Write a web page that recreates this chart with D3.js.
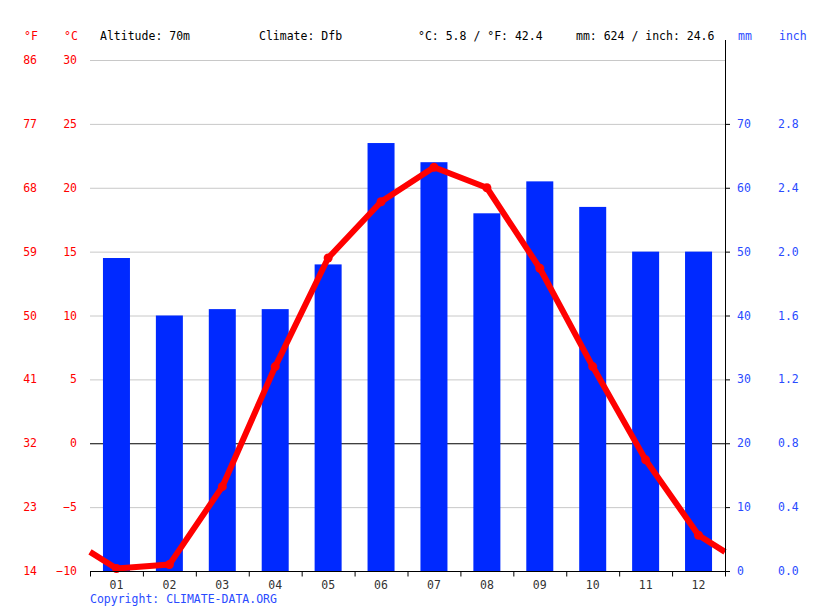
<!DOCTYPE html>
<html>
<head>
<meta charset="utf-8">
<script src="https://cdn.jsdelivr.net/npm/d3@7"></script>
<style>
  body { margin: 0; background: #fff; }
  text { font-family: "DejaVu Sans Mono", monospace; font-size: 11.5px; }
</style>
</head>
<body>
<div id="chart"></div>
<script>
// climate data
var months = ["01","02","03","04","05","06","07","08","09","10","11","12"];
var precip = [49, 40, 41, 41, 48, 67, 64, 56, 61, 57, 50, 50];
var temp = [-9.8, -9.5, -3.4, 6.0, 14.5, 18.9, 21.6, 20.0, 13.7, 6.0, -1.3, -7.2];
var cTicks = [30, 25, 20, 15, 10, 5, 0, -5, -10];
var fTicks = ["86","77","68","59","50","41","32","23","14"];
var mmTicks = [0, 10, 20, 30, 40, 50, 60, 70];
var inchTicks = ["0.0","0.4","0.8","1.2","1.6","2.0","2.4","2.8"];

var W = 815, H = 611,
    pL = 90, pR = 725, pT = 60, pB = 571,
    RED = "#ff0000", BLUE = "#0029ff", LBLUE = "#2a4bff";

var svg = d3.select("#chart").append("svg")
    .attr("width", W)
    .attr("height", H);

var x = d3.scaleBand().domain(months).range([pL, pR]);
var yT = d3.scaleLinear().domain([-10, 30]).range([pB, pT]);
var yP = d3.scaleLinear().domain([0, 80]).range([pB, pT]);

function cx(i) { return x(months[i]) + x.bandwidth() / 2; }

// grid lines
svg.selectAll(".grid").data(cTicks).enter().append("line")
    .attr("x1", pL).attr("x2", pR)
    .attr("y1", function(d){return yT(d) + 0.5;})
    .attr("y2", function(d){return yT(d) + 0.5;})
    .style("stroke", function(d){return d === 0 ? "#000" : "#c8c8c8";})
    .style("stroke-width", 1);

// bars
svg.selectAll(".bar").data(precip).enter().append("rect")
    .attr("x", function(d, i){return cx(i) - 13.5;})
    .attr("y", function(d){return yP(d);})
    .attr("width", 27)
    .attr("height", function(d){return pB - yP(d);})
    .style("fill", BLUE);

// temperature line, ends run to the plot edges at the Dec/Jan mid value
var edge = (temp[0] + temp[11]) / 2;
var pts = [[pL, yT(edge)]];
temp.forEach(function(d, i){ pts.push([cx(i), yT(d)]); });
pts.push([pR, yT(edge)]);

svg.append("path")
    .attr("d", d3.line()(pts))
    .style("fill", "none")
    .style("stroke", RED)
    .style("stroke-width", 6)
    .style("stroke-linejoin", "round");

svg.selectAll(".dot").data(temp).enter().append("circle")
    .attr("cx", function(d, i){return cx(i);})
    .attr("cy", function(d){return yT(d);})
    .attr("r", 4.5)
    .style("fill", RED);

// bottom axis
var xAxis = d3.axisBottom(x).tickSize(0).tickPadding(9);
var gx = svg.append("g").attr("transform", "translate(0," + (pB + 0.5) + ")").call(xAxis);
gx.select(".domain").attr("d", "M" + pL + ",0H" + pR).style("stroke", "#000");
gx.selectAll("text").style("font-size", "11.5px").style("fill", "#333").style("font-family", "DejaVu Sans Mono");
var bounds = months.map(function(m){return x(m);}).concat([pR]);
gx.selectAll(".bt").data(bounds).enter().append("line")
    .attr("x1", function(d){return d + 0.5;}).attr("x2", function(d){return d + 0.5;})
    .attr("y1", 0).attr("y2", 5)
    .style("stroke", "#000");

// right axis line
svg.append("line")
    .attr("x1", pR + 0.5).attr("x2", pR + 0.5)
    .attr("y1", 40).attr("y2", pB + 5)
    .style("stroke", "#000");
svg.selectAll(".rt").data(mmTicks).enter().append("line")
    .attr("x1", pR).attr("x2", pR + 5)
    .attr("y1", function(d){return yP(d) + 0.5;})
    .attr("y2", function(d){return yP(d) + 0.5;})
    .style("stroke", "#000");

// left labels
svg.selectAll(".cl").data(cTicks).enter().append("text")
    .attr("x", 77).attr("y", function(d){return yT(d) + 4;})
    .attr("text-anchor", "end")
    .style("fill", RED)
    .text(function(d){return d < 0 ? "\u2212" + (-d) : d;});
svg.selectAll(".fl").data(fTicks).enter().append("text")
    .attr("x", 37).attr("y", function(d, i){return yT(cTicks[i]) + 4;})
    .attr("text-anchor", "end")
    .style("fill", RED)
    .text(function(d){return d;});

// right labels
svg.selectAll(".ml").data(mmTicks).enter().append("text")
    .attr("x", 737).attr("y", function(d){return yP(d) + 4;})
    .style("fill", LBLUE)
    .text(function(d){return d;});
svg.selectAll(".il").data(inchTicks).enter().append("text")
    .attr("x", 778).attr("y", function(d, i){return yP(mmTicks[i]) + 4;})
    .style("fill", LBLUE)
    .text(function(d){return d;});

// header
var header = [
    {x: 24, t: "\u00b0F", c: RED},
    {x: 64, t: "\u00b0C", c: RED},
    {x: 100, t: "Altitude: 70m", c: "#000"},
    {x: 259, t: "Climate: Dfb", c: "#000"},
    {x: 418, t: "\u00b0C: 5.8 / \u00b0F: 42.4", c: "#000"},
    {x: 576, t: "mm: 624 / inch: 24.6", c: "#000"},
    {x: 738, t: "mm", c: LBLUE},
    {x: 779, t: "inch", c: LBLUE}
];
svg.selectAll(".hd").data(header).enter().append("text")
    .attr("x", function(d){return d.x;}).attr("y", 40)
    .style("fill", function(d){return d.c;})
    .text(function(d){return d.t;});

svg.append("text")
    .attr("x", 90).attr("y", 603)
    .style("fill", LBLUE)
    .text("Copyright: CLIMATE-DATA.ORG");
</script>
</body>
</html>
